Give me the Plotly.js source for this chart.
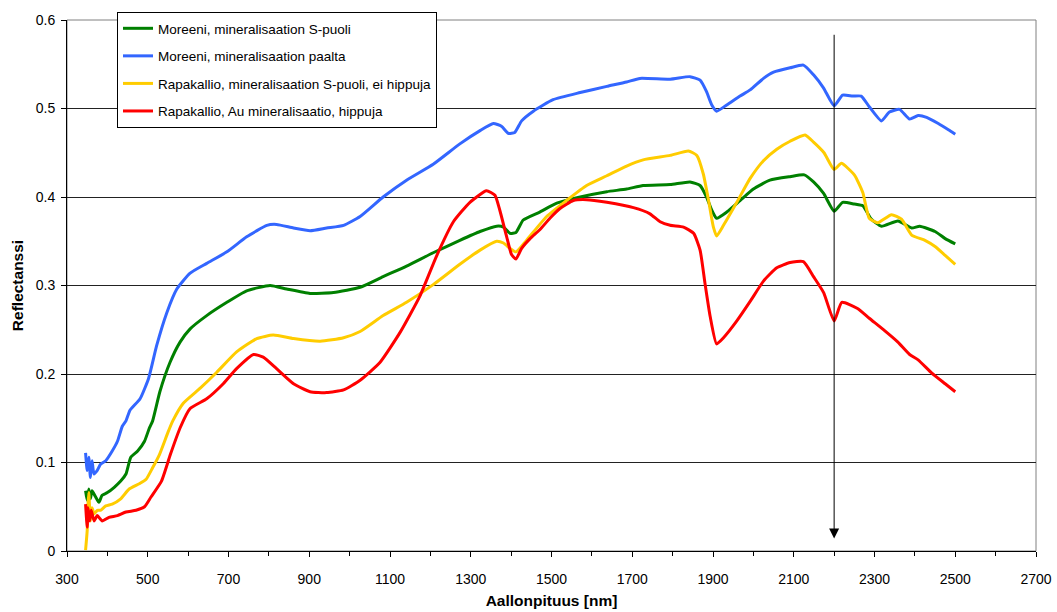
<!DOCTYPE html>
<html>
<head>
<meta charset="utf-8">
<script src="https://cdn.plot.ly/plotly-3.0.1.min.js"></script>
<style>
  html, body { margin: 0; padding: 0; background: #ffffff; }
  #chart { width: 1057px; height: 612px; }
</style>
</head>
<body>
<div id="chart"></div>
<script>
// Reflectance spectra (wavelength in nm, reflectance 0..1)
const seriesNames = [
  "Moreeni, mineralisaation S-puoli",
  "Moreeni, mineralisaation paalta",
  "Rapakallio, mineralisaation S-puoli, ei hippuja",
  "Rapakallio, Au mineralisaatio, hippuja"
];

const wlGreen = [346,350,354,358,362,371,379,387,400,417,433,446,458,475,492,504,512,530,555,580,605,646,696,745,803,844,902,960,1026,1083,1141,1207,1273,1323,1364,1381,1397,1412,1430,1471,1513,1571,1637,1686,1727,1794,1843,1868,1884,1897,1909,1934,1967,2000,2041,2091,2126,2149,2174,2200,2221,2250,2271,2292,2317,2358,2392,2412,2450,2475,2500];
const reflGreen = [.068,.057,.070,.059,.068,.061,.055,.063,.066,.072,.079,.087,.106,.113,.124,.139,.147,.180,.213,.236,.251,.266,.281,.294,.300,.296,.291,.292,.298,.310,.322,.337,.351,.361,.367,.366,.359,.360,.374,.383,.393,.400,.406,.409,.413,.414,.417,.413,.400,.385,.376,.383,.396,.409,.419,.423,.425,.417,.404,.384,.394,.392,.390,.375,.367,.373,.365,.367,.361,.353,.347];

const wlBlue = [346,350,354,358,362,367,375,383,396,412,425,437,446,456,481,502,522,547,572,605,646,696,745,795,819,861,902,943,985,1026,1083,1141,1207,1273,1323,1356,1376,1393,1409,1426,1455,1504,1571,1637,1686,1719,1794,1843,1868,1884,1897,1909,1934,1967,1992,2025,2050,2091,2124,2149,2174,2200,2221,2246,2267,2287,2317,2337,2362,2387,2408,2429,2458,2483,2500];
const reflBlue = [.111,.091,.106,.083,.102,.087,.091,.098,.102,.113,.124,.141,.147,.159,.172,.195,.232,.269,.296,.314,.325,.338,.355,.368,.369,.365,.362,.365,.368,.378,.400,.419,.437,.460,.475,.483,.480,.472,.473,.486,.497,.510,.518,.525,.530,.534,.533,.536,.532,.519,.504,.497,.504,.514,.521,.534,.541,.546,.549,.538,.523,.503,.515,.514,.514,.502,.486,.496,.499,.488,.492,.490,.483,.476,.471];

const wlYellow = [346,350,352,354,358,362,367,375,383,396,412,433,454,479,496,512,529,550,562,588,630,671,720,770,811,861,927,985,1026,1083,1141,1207,1273,1323,1364,1381,1397,1412,1438,1488,1537,1587,1637,1686,1727,1794,1839,1860,1876,1889,1901,1909,1926,1959,1992,2025,2058,2091,2128,2149,2175,2200,2218,2250,2271,2287,2308,2342,2367,2392,2425,2450,2475,2500];
const reflYellow = [.001,.023,.053,.066,.034,.049,.042,.046,.046,.051,.053,.059,.070,.076,.081,.094,.109,.134,.147,.167,.184,.202,.225,.240,.244,.240,.237,.241,.248,.266,.281,.301,.324,.340,.350,.348,.342,.338,.351,.378,.396,.413,.424,.435,.442,.447,.452,.447,.426,.396,.366,.356,.368,.394,.421,.441,.454,.463,.470,.462,.450,.431,.438,.425,.405,.376,.371,.380,.375,.357,.351,.344,.334,.324];

const wlRed = [346,350,352,356,360,367,375,387,404,425,446,471,492,508,534,556,580,605,646,687,720,762,786,819,861,902,943,985,1026,1075,1125,1174,1215,1257,1298,1339,1360,1372,1389,1401,1412,1426,1447,1471,1496,1521,1554,1587,1637,1703,1744,1769,1794,1827,1852,1868,1880,1893,1909,1926,1959,1992,2025,2058,2091,2124,2149,2174,2200,2219,2258,2287,2325,2358,2387,2408,2442,2475,2500];
const reflRed = [.053,.027,.049,.034,.046,.034,.040,.034,.038,.040,.044,.046,.050,.061,.079,.109,.139,.161,.172,.189,.206,.222,.219,.206,.189,.180,.179,.182,.193,.213,.247,.288,.333,.372,.394,.407,.402,.385,.355,.335,.330,.342,.353,.363,.376,.387,.396,.397,.394,.388,.381,.372,.368,.366,.359,.340,.303,.265,.234,.241,.260,.282,.305,.320,.326,.327,.310,.292,.260,.281,.274,.263,.249,.236,.222,.216,.201,.189,.180];

const colors = ["#008000", "#3366ff", "#ffcc00", "#ff0000"];
const xs = [wlGreen, wlBlue, wlYellow, wlRed];
const ys = [reflGreen, reflBlue, reflYellow, reflRed];

// Wavelength marked with the arrow
const markerWl = 2200;
const arrowTop = 0.585;
const arrowTip = 0.014;

const traces = seriesNames.map((name, i) => ({
  type: "scatter",
  mode: "lines",
  name: name,
  legendgroup: "g" + i,
  x: xs[i],
  y: ys[i],
  line: { color: colors[i], width: 3, shape: "spline", smoothing: 0.5 },
  hoverinfo: "skip"
}));

const font = "Arial, 'Liberation Sans', sans-serif";

const layout = {
  width: 1057,
  height: 612,
  margin: { l: 67, r: 21, t: 16, b: 61 },
  paper_bgcolor: "#ffffff",
  plot_bgcolor: "#ffffff",
  font: { family: font, size: 14, color: "#000000" },
  showlegend: true,
  legend: {
    x: 0.0516, y: 1.015, xanchor: "left", yanchor: "top",
    bgcolor: "#ffffff", bordercolor: "#000000", borderwidth: 1,
    font: { family: font, size: 13.5, color: "#000000" },
    traceorder: "grouped", tracegroupgap: 7
  },
  xaxis: {
    range: [300, 2700],
    tick0: 300, dtick: 200,
    ticks: "outside", ticklen: 5, tickwidth: 1, tickcolor: "#000000",
    minor: { dtick: 100, tick0: 300, ticks: "outside", ticklen: 4, tickcolor: "#000000", showgrid: false },
    showgrid: false, zeroline: false,
    showline: true, linecolor: "#000000", linewidth: 1,
    tickfont: { family: font, size: 14, color: "#000000" },
    ticklabelstandoff: 10,
    title: { text: "<b>Aallonpituus [nm]</b>", font: { family: font, size: 15.5, color: "#000000" }, standoff: 9 },
    automargin: false
  },
  yaxis: {
    range: [0, 0.6],
    tick0: 0, dtick: 0.1,
    ticks: "outside", ticklen: 5, tickwidth: 1, tickcolor: "#000000",
    showgrid: true, gridcolor: "#222222", gridwidth: 1,
    zeroline: false,
    showline: true, linecolor: "#000000", linewidth: 1,
    tickfont: { family: font, size: 14, color: "#000000" },
    ticklabelstandoff: 3,
    title: { text: "<b>Reflectanssi</b>", font: { family: font, size: 15.5, color: "#000000" }, standoff: 8 },
    automargin: false
  },
  shapes: [{
    type: "rect", xref: "paper", yref: "paper", x0: 0, x1: 1, y0: 0, y1: 1,
    line: { color: "#808080", width: 1 }, layer: "below"
  }],
  annotations: [{
    x: markerWl, y: arrowTip, xref: "x", yref: "y",
    ax: markerWl, ay: arrowTop, axref: "x", ayref: "y",
    showarrow: true, arrowhead: 2, arrowsize: 2, arrowwidth: 1, arrowcolor: "#000000",
    text: ""
  }]
};

Plotly.newPlot("chart", traces, layout, { staticPlot: true, displayModeBar: false });
</script>
</body>
</html>
